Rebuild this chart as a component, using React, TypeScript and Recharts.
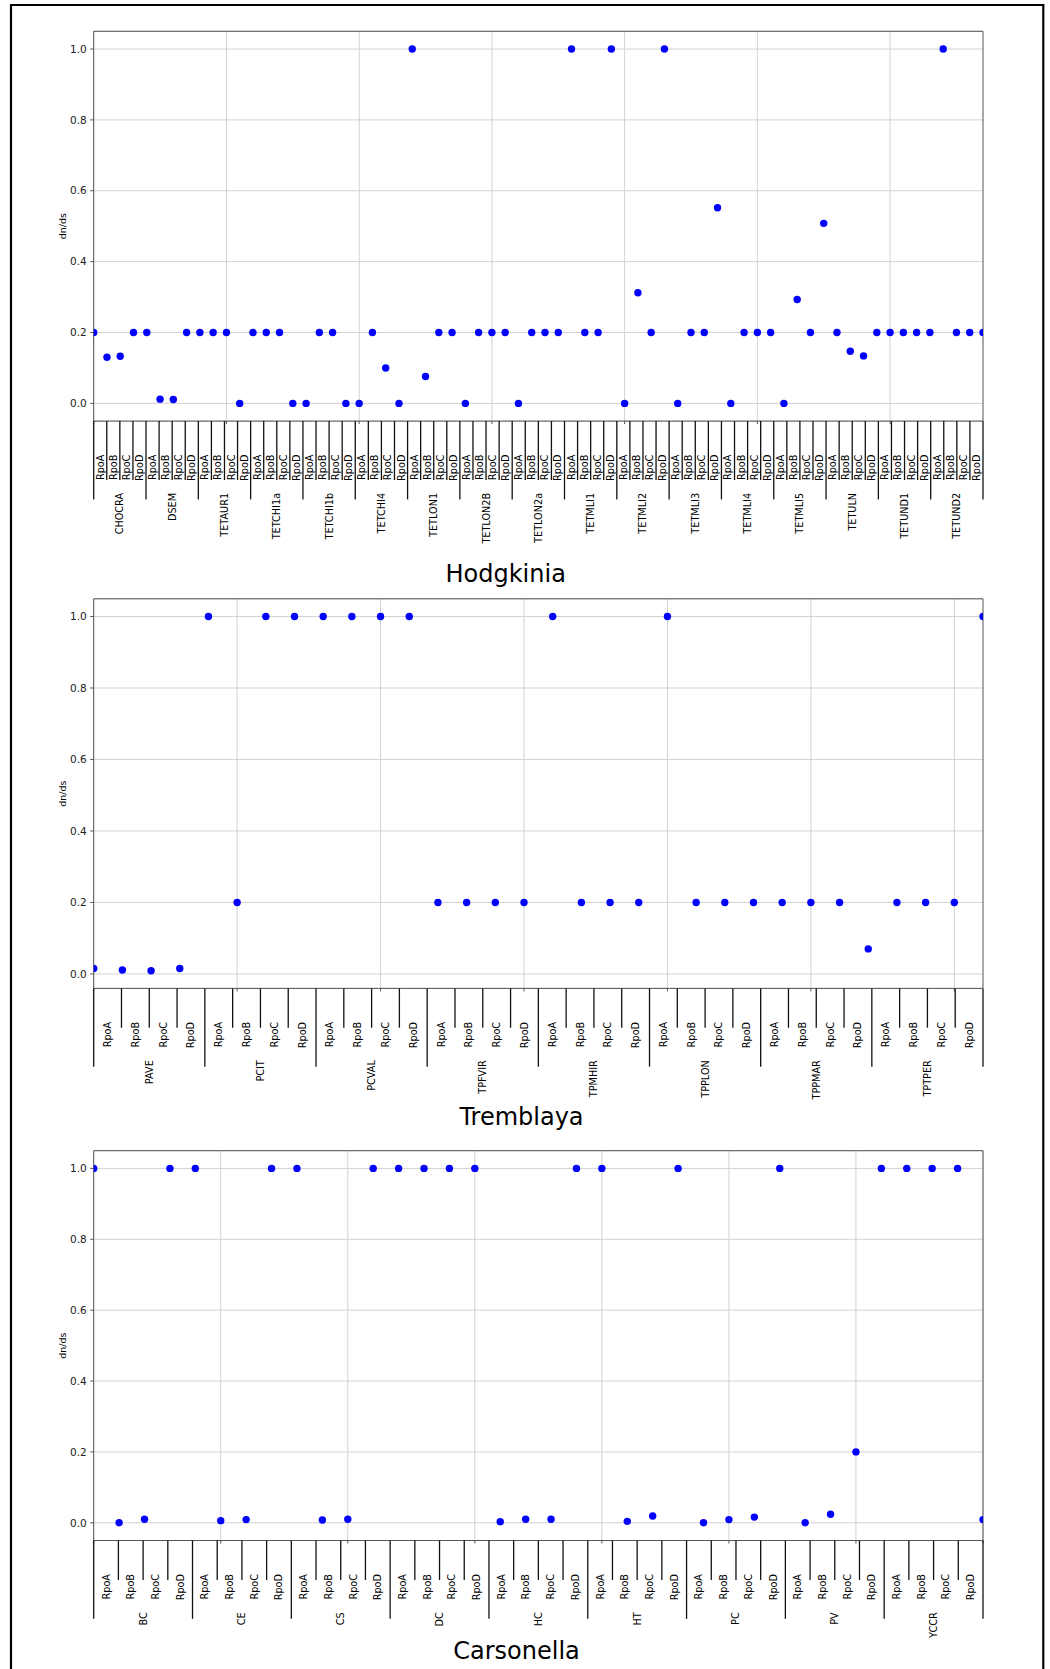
import React from 'react';
import { ScatterChart, Scatter, XAxis, YAxis, CartesianGrid, ReferenceLine } from 'recharts';

// ---------------- data ----------------
const GENES = ['RpoA', 'RpoB', 'RpoC', 'RpoD'];
const Y_TICKS = [0, 0.2, 0.4, 0.6, 0.8, 1.0];

const hodgkiniaGroups = [
  'CHOCRA', 'DSEM', 'TETAUR1', 'TETCHI1a', 'TETCHI1b', 'TETCHI4', 'TETLON1', 'TETLON2B', 'TETLON2a',
  'TETMLI1', 'TETMLI2', 'TETMLI3', 'TETMLI4', 'TETMLI5', 'TETULN', 'TETUND1', 'TETUND2',
];
const hodgkiniaValues = [
  0.2, 0.13, 0.133, 0.2,
  0.2, 0.012, 0.011, 0.2,
  0.2, 0.2, 0.2, 0.0,
  0.2, 0.2, 0.2, 0.0,
  0.0, 0.2, 0.2, 0.0,
  0.0, 0.2, 0.1, 0.0,
  1.0, 0.076, 0.2, 0.2,
  0.0, 0.2, 0.2, 0.2,
  0.0, 0.2, 0.2, 0.2,
  1.0, 0.2, 0.2, 1.0,
  0.0, 0.312, 0.2, 1.0,
  0.0, 0.2, 0.2, 0.552,
  0.0, 0.2, 0.2, 0.2,
  0.0, 0.293, 0.2, 0.508,
  0.2, 0.147, 0.134, 0.2,
  0.2, 0.2, 0.2, 0.2,
  1.0, 0.2, 0.2, 0.2,
];
const hodgkiniaGridTicks = [0, 10, 20, 30, 40, 50, 60];

const tremblayaGroups = ['PAVE', 'PCIT', 'PCVAL', 'TPFVIR', 'TPMHIR', 'TPPLON', 'TPPMAR', 'TPTPER'];
const tremblayaValues = [
  0.015, 0.011, 0.009, 0.015,
  1.0, 0.2, 1.0, 1.0,
  1.0, 1.0, 1.0, 1.0,
  0.2, 0.2, 0.2, 0.2,
  1.0, 0.2, 0.2, 0.2,
  1.0, 0.2, 0.2, 0.2,
  0.2, 0.2, 0.2, 0.07,
  0.2, 0.2, 0.2, 1.0,
];
const tremblayaGridTicks = [0, 5, 10, 15, 20, 25, 30];

const carsonellaGroups = ['BC', 'CE', 'CS', 'DC', 'HC', 'HT', 'PC', 'PV', 'YCCR'];
const carsonellaValues = [
  1.0, 0.0, 0.01, 1.0,
  1.0, 0.006, 0.009, 1.0,
  1.0, 0.008, 0.01, 1.0,
  1.0, 1.0, 1.0, 1.0,
  0.003, 0.01, 0.01, 1.0,
  1.0, 0.004, 0.019, 1.0,
  0.0, 0.009, 0.016, 1.0,
  0.0, 0.024, 0.2, 1.0,
  1.0, 1.0, 1.0, 0.009,
];
const carsonellaGridTicks = [0, 5, 10, 15, 20, 25, 30, 35];

// ---------------- layout ----------------
const W = 1050;
const H = 1669;
const PLOT_LEFT = 93.7;
const PLOT_RIGHT = 983;
const Y_AXIS_W = 40;
const TINY = 0.01;
const FONT = "'DejaVu Sans', 'Liberation Sans', sans-serif";
const SPINE = '#555555';
const GRID = '#d2d2d2';
const LABEL_FS = 9.7;
const ITEM_TOP = 33.5;
const GROUP_TOP = 71.8;
const GROUP_LEN = 78.3;

type PanelCfg = {
  title: string;
  groups: string[];
  values: number[];
  gridTicks: number[];
  chartTop: number;
  chartHeight: number;
  plotTop: number;
  plotBottom: number;
  shortLen: number;
  titleX: number;
  titleBase: number;
};

const panels: PanelCfg[] = [
  {
    title: 'Hodgkinia', groups: hodgkiniaGroups, values: hodgkiniaValues, gridTicks: hodgkiniaGridTicks,
    chartTop: 0, chartHeight: 600, plotTop: 31.3, plotBottom: 421.1, shortLen: 59, titleX: 505.7, titleBase: 582.3,
  },
  {
    title: 'Tremblaya', groups: tremblayaGroups, values: tremblayaValues, gridTicks: tremblayaGridTicks,
    chartTop: 560, chartHeight: 600, plotTop: 598.8, plotBottom: 988.4, shortLen: 39.3, titleX: 521.5, titleBase: 1124.8,
  },
  {
    title: 'Carsonella', groups: carsonellaGroups, values: carsonellaValues, gridTicks: carsonellaGridTicks,
    chartTop: 1110, chartHeight: 559, plotTop: 1150.7, plotBottom: 1540.5, shortLen: 39.5, titleX: 516.5, titleBase: 1659,
  },
];

const renderDot = (props: any) => {
  const { cx, cy } = props;
  if (cx == null || cy == null) return <g />;
  return <circle cx={cx} cy={cy} r={3.7} fill="#0000ff" />;
};

const near = (a: number, b: number) => Math.abs(a - b) < 1e-6;

// The x axis is in point-index units [0, n-1]; the label table below the plot
// is divided into n equal cells, so cell position c maps to index c*(n-1)/n.
function makeTick(groups: string[], gridTicks: number[], shortLen: number) {
  const n = groups.length * 4;
  return (props: any) => {
    const { x, y, payload } = props;
    const v: number = payload.value;
    const els: any[] = [];
    if (gridTicks.some((t) => near(t, v))) {
      els.push(<line key="gt" x1={x} x2={x} y1={y} y2={y + 3} stroke={SPINE} strokeWidth={1} />);
    }
    const c = (v * n) / (n - 1);
    const c2 = Math.round(c * 2);
    if (near(c * 2, c2)) {
      if (c2 % 2 === 0) {
        const k = c2 / 2;
        const isGroup = k % 4 === 0;
        els.push(
          <line key="sep" x1={x} x2={x} y1={y} y2={y + (isGroup ? GROUP_LEN : shortLen)} stroke="#111" strokeWidth={1.3} />,
        );
        if (k % 4 === 2 && k < n) {
          const ty = y + GROUP_TOP;
          els.push(
            <text key="grp" x={x} y={ty} transform={`rotate(-90 ${x} ${ty})`} textAnchor="end" dominantBaseline="central"
              fontSize={LABEL_FS} fill="#000" fontFamily={FONT}>{groups[(k - 2) / 4]}</text>,
          );
        }
      } else {
        const idx = (c2 - 1) / 2;
        const ty = y + ITEM_TOP;
        els.push(
          <text key="itm" x={x} y={ty} transform={`rotate(-90 ${x} ${ty})`} textAnchor="end" dominantBaseline="central"
            fontSize={LABEL_FS} fill="#000" fontFamily={FONT}>{GENES[idx % 4]}</text>,
        );
      }
    }
    return <g>{els}</g>;
  };
}

function Panel({ cfg }: { cfg: PanelCfg }) {
  const n = cfg.groups.length * 4;
  const data = cfg.values.map((v, i) => ({ x: i, y: v }));
  const vmin = Math.min(...cfg.values);
  const vmax = Math.max(...cfg.values);
  const pad = (vmax - vmin) * 0.05;
  const yDomain: [number, number] = [vmin - pad, vmax + pad];
  const cellTicks = Array.from({ length: 2 * n + 1 }, (_, k) => ((k / 2) * (n - 1)) / n);
  const allTicks = [...cellTicks];
  cfg.gridTicks.forEach((t) => {
    if (!allTicks.some((u) => near(u, t))) allTicks.push(t);
  });
  allTicks.sort((a, b) => a - b);
  const margin = {
    top: cfg.plotTop - cfg.chartTop - TINY,
    bottom: cfg.chartTop + cfg.chartHeight - cfg.plotBottom - TINY,
    left: PLOT_LEFT - Y_AXIS_W,
    right: W - PLOT_RIGHT - TINY,
  };
  return (
    <div style={{ position: 'absolute', left: 0, top: cfg.chartTop, width: W, height: cfg.chartHeight }}>
      <ScatterChart width={W} height={cfg.chartHeight} margin={margin}>
        <CartesianGrid stroke={GRID} strokeWidth={1} vertical={false} />
        <XAxis
          type="number" dataKey="x" domain={[0, n - 1]} allowDataOverflow ticks={allTicks} interval={0}
          height={TINY} tickSize={0} tickMargin={0} tickLine={false} axisLine={{ stroke: SPINE }}
          tick={makeTick(cfg.groups, cfg.gridTicks, cfg.shortLen)}
        />
        <XAxis
          xAxisId="top" orientation="top" type="number" domain={[0, n - 1]} allowDataOverflow height={TINY}
          tick={false} tickLine={false} axisLine={{ stroke: SPINE }}
        />
        <YAxis
          type="number" dataKey="y" domain={yDomain} allowDataOverflow ticks={Y_TICKS} interval={0} width={Y_AXIS_W}
          tickSize={3.5} tickMargin={3.5} tickFormatter={(v: number) => v.toFixed(1)}
          tick={{ fontSize: 10.5, fill: '#222', fontFamily: FONT }} axisLine={{ stroke: SPINE }} tickLine={{ stroke: SPINE }}
        />
        <YAxis
          yAxisId="right" orientation="right" type="number" domain={yDomain} allowDataOverflow width={TINY}
          tick={false} tickLine={false} axisLine={{ stroke: SPINE }}
        />
        {cfg.gridTicks.map((t) => (
          <ReferenceLine key={t} x={t} stroke={GRID} strokeWidth={1} />
        ))}
        <Scatter data={data} dataKey="y" fill="#0000ff" isAnimationActive={false} shape={renderDot} />
      </ScatterChart>
    </div>
  );
}

export default function App() {
  return (
    <div style={{ position: 'absolute', left: 0, top: 0, width: W, height: H, background: '#fff', fontFamily: FONT, overflow: 'hidden' }}>
      {panels.map((p) => (
        <Panel key={p.title} cfg={p} />
      ))}
      <svg width={W} height={H} style={{ position: 'absolute', left: 0, top: 0, pointerEvents: 'none' }}>
        <path d={`M11 ${H + 2} L11 5 L1043.3 5 L1043.3 ${H + 2}`} fill="none" stroke="#000" strokeWidth={2.2} />
        {panels.map((p) => (
          <g key={p.title}>
            <text x={p.titleX} y={p.titleBase} textAnchor="middle" fontSize={24} fill="#000" fontFamily={FONT}>{p.title}</text>
            <text
              x={65.8} y={(p.plotTop + p.plotBottom) / 2} textAnchor="middle" fontSize={9.5} fill="#000" fontFamily={FONT}
              transform={`rotate(-90 65.8 ${(p.plotTop + p.plotBottom) / 2})`}
            >dn/ds</text>
          </g>
        ))}
      </svg>
    </div>
  );
}
